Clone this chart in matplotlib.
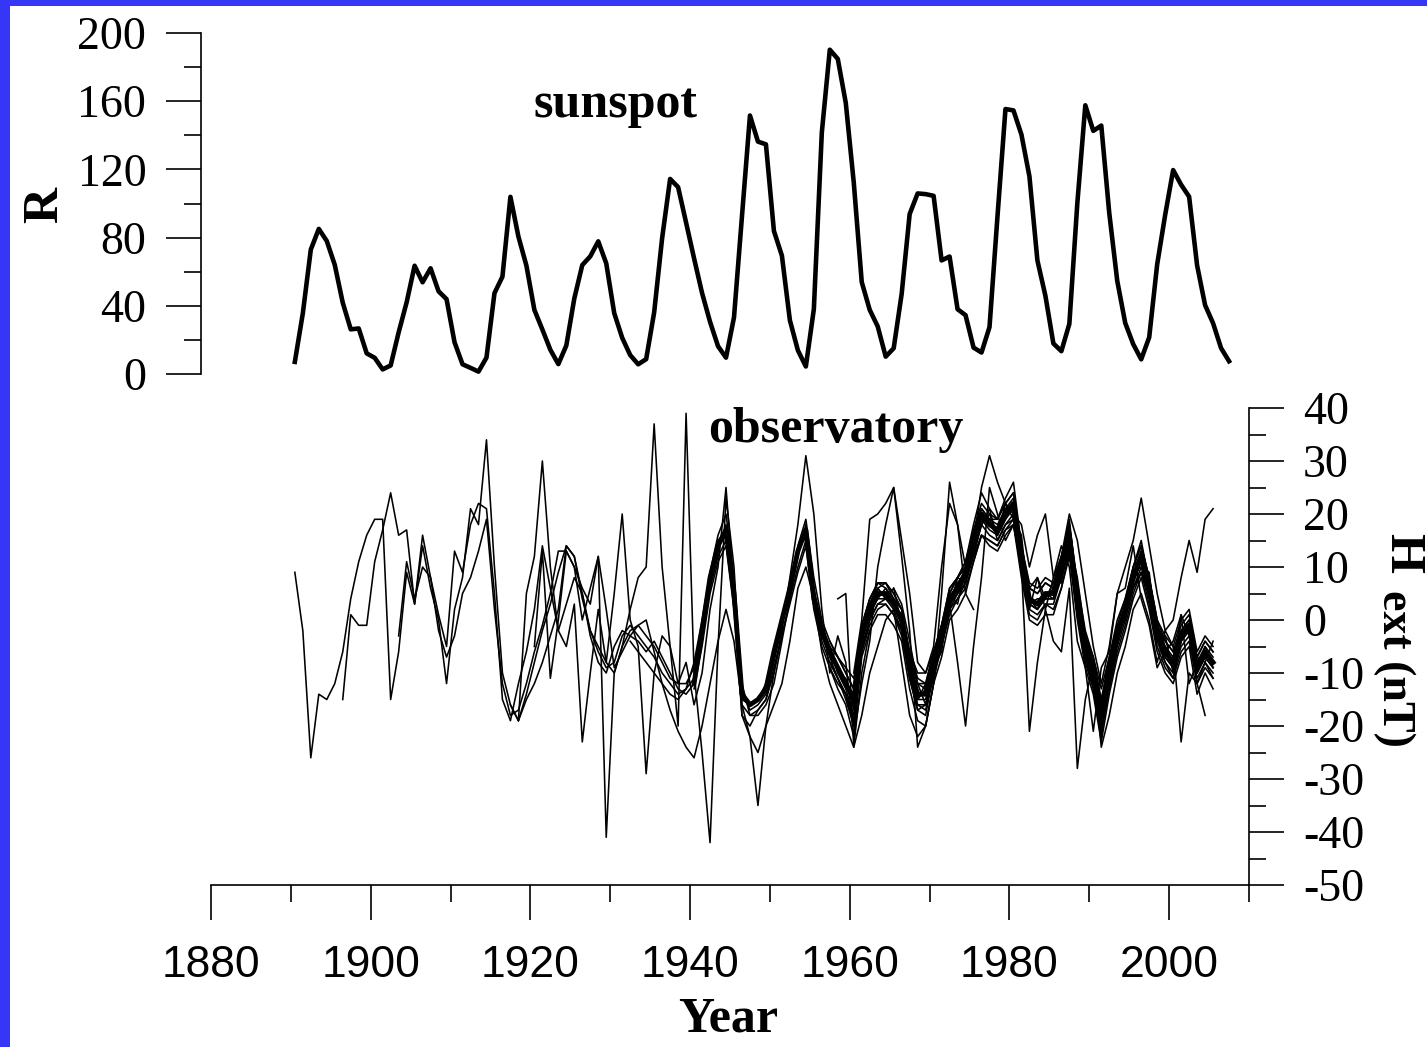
import numpy as np
import matplotlib
matplotlib.use('Agg')
import matplotlib.pyplot as plt
from matplotlib import font_manager
from matplotlib.patches import Rectangle
from matplotlib.ticker import MultipleLocator

plt.rcParams['axes.unicode_minus'] = False
plt.rcParams['font.family'] = ['Liberation Serif', 'DejaVu Serif']

# annual sunspot number R, 1890-2007
ssn_start = 1890
ssn = [7.1, 35.6, 73.0, 85.1, 78.0, 64.0, 41.8, 26.2, 26.7, 12.1,
       9.5, 2.7, 5.0, 24.4, 42.0, 63.5, 53.8, 62.0, 48.5, 43.9,
       18.6, 5.7, 3.6, 1.4, 9.6, 47.4, 57.1, 103.9, 80.6, 63.6,
       37.6, 26.1, 14.2, 5.8, 16.7, 44.3, 63.9, 69.0, 77.8, 64.9,
       35.7, 21.2, 11.1, 5.7, 8.7, 36.1, 79.7, 114.4, 109.6, 88.8,
       67.8, 47.5, 30.6, 16.3, 9.6, 33.2, 92.6, 151.6, 136.3, 134.7,
       83.9, 69.4, 31.5, 13.9, 4.4, 38.0, 141.7, 190.2, 184.8, 159.0,
       112.3, 53.9, 37.6, 27.9, 10.2, 15.1, 47.0, 93.8, 105.9, 105.5,
       104.5, 66.6, 68.9, 38.0, 34.5, 15.5, 12.6, 27.5, 92.5, 155.4,
       154.6, 140.4, 115.9, 66.6, 45.9, 17.9, 13.4, 29.4, 100.2, 157.6,
       142.6, 145.7, 94.3, 54.6, 29.9, 17.5, 8.6, 21.5, 64.3, 93.3,
       119.6, 111.0, 104.0, 63.7, 40.4, 29.8, 15.2, 7.5]

# Hext (nT) per observatory: (first year, annual values)
obs_a = (1890, [9, -2, -26, -14, -15, -12, -6, 4, 11, 16, 19, 19, -15, -6, 9, 3, 16, 8, 1, -5,
                13, 9, 18, 22, 21, 5, -15, -19, -12, -6, 2, 14, 6, -2, 3, 8, 5, -2, -6, -9,
                -8, -3, -1, -3, -5, -7, -10, -12, -14, -13, -11, -3, 7, 13, 18, 6, -13, -17, -16, -14,
                -8, -1, 5, 12, 18, 6, -1, -5, -10, -13, -18])
obs_b = (1896, [-15, 1, -1, -1, 11, 17, 24, 16, 17, 3, 14, 6, 0, -12, 2, 8, 21, 18, 34, 10,
                -10, -16, -19, -14, -8, -2, 3, 9, 14, 12, 4, -2, -5, -8, -10, -5, -2, -1, -3, -5,
                -8, -11, -12, -12, -9, -1, 8, 15, 17, 4, -15, -16, -15, -12, -6, 0, 7, 13, 16, 3,
                -3, -7, -9, -12, -16, -4, 1, 4, 6, 3, -1, -9, -15, -15, -8, -2, 4, 7, 9, 14,
                19, 18, 16, 19, 22, 11, 3, 2, 5, 4, 9, 15, 3, -6, -11, -19, -11, -3, 2, 8,
                13, 6, -3, -7, -9, -4, -2, -10, -7, -9])
obs_c = (1903, [-3, 11, 4, 10, 8, -2, -7, -3, 5, 8, 13, 19, 2, -12, -18, -17, -12, -6, -1, 5,
                13, 13, 10, 6, 3, 12, 2, -9, -6, -3, -4, -6, -4, -7, -10, -13, -14, -12, -4, 6,
                12, 15, 3, -16, -18, -17, -15, -9, -3, 4, 10, 15, 5, -4, -8, -11, -14, -20, -6, 0,
                3, 4, 2, -2, -10, -16, -17, -10, -4, 2, 5, 8, 13])
obs_n1 = (1917, [-16, -19, 5, 12, 30, 10, -2, -5, 3, -23, -10, 2, -8, 5, 20, 0, -5, -29, -10, -3,
                 -5, -12, -8, -16, -10, 2, 10, 25, 5, -18, -22, -35, -20, -10])
obs_n2 = (1920, [-5, 13, -11, 0, 13, 10, 0, 6, 12, -41, -10, -5, 2, 8, 10, 37, 10, -5, -20, 39,
                 -10, -25, -42, -5, 23, 10, -15])
obs_s = (1918, [-19, -15, -12, -8, -3, 2, 14, 12, 5, -3, -8, -10, -5, -2, -3, -1, 0, -6, -12, -17,
                -21, -24, -26, -20, -12, -4, 2, -4, -16, -22, -25, -20, -16, -12, -4, 6, 10, 4, -6, -12,
                -16, -20, -24, -10, -2])
obs_d = (1932, [-4, -6, -8, -10, -12, -14, -15, -13, -8, 0, 9, 16, 20, 8, -12, -18, -18, -16, -12, -4,
                4, 14, 19, 8, 0, -4, -7, -10, -13, -2, 3, 6, 7, 5, 2, -7, -12, -13, -7, -1,
                5, 8, 10, 16, 21, 19, 18, 21, 23, 14, 6, 5, 7, 6, 11, 17, 6, -3, -9, -16,
                -9, -2, 3, 9, 13, 7, -1, -5, -7, -2, 0, -8, -5, -7])
obs_e = (1940, [-13, -5, 5, 11, 14, 2, -18, -20, -17, -15, -10, -3, 3, 9, 14, 2, -5, -9, -12, -14,
                -19, -6, -1, 2, 3, 1, -3, -11, -17, -16, -11, -5, 1, 4, 6, 11, 16, 15, 14, 17,
                19, 9, 1, 0, 3, 2, 6, 13, 1, -8, -13, -21, -13, -6, -1, 5, 9, 3, -5, -9,
                -11, -6, -4, -12, -9, -11])
obs_m1 = (1957, [-4, -7, -10, -13, -1, 4, 7, 6, 4, 2, -7, -12, -12, -6, -1, 6, 8, 10, 16, 21,
                 19, 19, 22, 24, 14, 6, 5, 7, 6, 12, 18, 6, -3, -8, -16, -8, -1, 4, 10, 14,
                 8, 0, -4, -6, -1, 1, -7, -4, -6])
obs_m2 = (1957, [-8, -11, -14, -18, -5, 0, 3, 3, 1, -2, -11, -16, -16, -10, -5, 2, 4, 7, 13, 18,
                 16, 15, 18, 20, 10, 2, 1, 3, 3, 8, 14, 2, -7, -12, -20, -12, -5, 0, 6, 10,
                 4, -4, -8, -10, -5, -3, -11, -8, -10])
obs_m3 = (1957, [-7, -11, -15, -20, -4, 3, 7, 7, 4, 0, -11, -17, -18, -10, -4, 5, 8, 11, 18, 24,
                 21, 19, 23, 26, 14, 4, 2, 5, 5, 11, 19, 5, -7, -13, -22, -12, -4, 2, 10, 15,
                 7, -3, -8, -11, -4, -1, -12, -8, -11])
obs_m4 = (1957, [-5, -7, -9, -11, -2, 2, 4, 4, 3, 1, -6, -10, -10, -6, -2, 3, 5, 7, 12, 16,
                 15, 14, 17, 18, 10, 4, 3, 4, 4, 8, 13, 4, -3, -7, -13, -7, -2, 2, 6, 9,
                 5, -1, -4, -6, -2, 0, -7, -4, -6])
obs_m5 = (1960, [-12, -1, 4, 7, 7, 5, 2, -6, -11, -12, -6, -1, 6, 8, 11, 17, 22, 20, 19, 22,
                 24, 14, 7, 6, 8, 7, 12, 18, 7, -2, -7, -15, -7, 0, 4, 10, 14, 8, 0, -3,
                 -5, 0, 2, -6, -3, -5])
obs_m6 = (1957, [-5, -10, -11, -17, -2, 1, 6, 4, 4, -1, -8, -15, -13, -9, -2, 3, 7, 8, 16, 19,
                 19, 16, 21, 21, 13, 3, 4, 4, 6, 9, 17, 3, -4, -11, -17, -11, -2, 1, 9, 11,
                 7, -3, -5, -9, -2, -2, -10, -5, -9])
obs_m7 = (1970, [-9, -4, 3, 5, 8, 14, 19, 17, 16, 19, 21, 11, 3, 2, 4, 4, 9, 15, 3, -6,
                 -11, -19, -11, -4, 1, 7, 11, 5, -3, -7, -9, -4, -2, -10, -7, -9])
obs_m8 = (1957, [-9, -13, -16, -22, -7, -2, 1, 1, -1, -4, -13, -19, -20, -12, -7, 0, 2, 5, 11, 16,
                 14, 13, 16, 18, 8, 0, -1, 1, 1, 6, 12, 0, -9, -14, -23, -14, -7, -2, 4, 8,
                 2, -6, -10, -12, -7, -5, -14, -10, -13])
obs_m9 = (1962, [0, 6, 4, 6, -1, -7, -15, -12, -10, -1, 2, 8, 7, 13, 18, 21, 15, 18, 19, 16,
                 2, 8, 4, 7, 7, 15, 8, -3, -12, -15, -13, -1, 0, 9, 10, 9, -4, -3, -10, 1,
                 -3, -7, -8, -4])
obs_m10 = (1965, [6, 3, -4, -12, -16, -9, -6, 5, 3, 10, 12, 18, 20, 16, 22, 19, 9, 6, 8, 2,
                  8, 14, 10, -4, -9, -21, -9, -6, 5, 6, 14, 4, -1, -9, -6, -4, 1, -12, -8, -7])
obs_core = (1940, [-12, -2, 8, 14, 17, 5, -14, -16, -15, -13, -6, 0, 6, 13, 17, 4, -2, -6, -9, -12,
                   -15, -3, 2, 5, 5, 3, 0, -9, -14, -14, -8, -3, 4, 6, 9, 15, 20, 18, 17, 20,
                   22, 12, 4, 3, 5, 5, 10, 16, 4, -5, -10, -18, -10, -3, 2, 8, 12, 6, -2, -6,
                   -8, -3, -1, -9, -6, -8])
obs_o1 = (1950, [-10, -2, 8, 18, 31, 20, 2, -10, -3, -8, -22, -12, -4, 10, 18, 25, 12, -2, -24, -20,
                 -12, 5, 26, 18, 5, 2])
obs_o2 = (1958, [4, 5, -24, -18, -10, -5, 0, 2, -8, -18, -22, -20, -12, -2, 3, -8, -20, -5, 8, 25,
                 20, 15, 18, 10, -21, -8, 2, -4, -6, 6, -28, -15, -8, -24, -18, -10, -5, 2, 5, 0,
                 -8, -2, -5, -23, -10, -12, -18])
obs_o3 = (1960, [-10, 0, 19, 20, 22, 25, 15, 5, -8, -10, -5, 10, 22, 18, 10, 15, 25, 31, 26, 22,
                 20, 18, 10, 16, 20, 8, 12, 20, 15, 5, -5, -12, -5, 5, 10, 15, 23, 14, 5, -2,
                 0, 8, 15, 9, 19, 21])

observatories = [obs_a, obs_b, obs_c, obs_n1, obs_n2, obs_s, obs_d, obs_e,
                 obs_m1, obs_m2, obs_m3, obs_m4, obs_m5, obs_m6, obs_m7, obs_m8,
                 obs_m9, obs_m10, obs_o1, obs_o2, obs_o3]

W, H = 1427, 1047
fig = plt.figure(figsize=(W / 100, H / 100), dpi=100, facecolor='#3636f6')
fig.patches.append(Rectangle((10 / W, 0), 1, 1 - 6 / H, transform=fig.transFigure,
                             facecolor='white', edgecolor='none', zorder=-10))

def px_box(x0, x1, ytop, ybot):
    return [x0 / W, 1 - ybot / H, (x1 - x0) / W, (ybot - ytop) / H]

names = {f.name for f in font_manager.fontManager.ttflist}
if 'Liberation Sans Narrow' in names:
    xfont = dict(family='Liberation Sans Narrow', size=39)
else:
    xfont = dict(family='Liberation Sans', size=32)

tick_kw = dict(width=1.2, color='black')

# ---- sunspot panel
ax1 = fig.add_axes(px_box(200.5, 1249, 33, 374))
ax1.set_facecolor('none')
yrs = np.arange(ssn_start, ssn_start + len(ssn)) + 0.5
ax1.plot(yrs, ssn, color='black', lw=3.3, solid_joinstyle='round')
ax1.set_xlim(1880 - 10.5 / 7.98, 2010)
ax1.set_ylim(0, 200)
for s in ['top', 'right', 'bottom']:
    ax1.spines[s].set_visible(False)
ax1.spines['left'].set_linewidth(1.2)
ax1.set_xticks([])
ax1.yaxis.set_major_locator(MultipleLocator(40))
ax1.yaxis.set_minor_locator(MultipleLocator(20))
ax1.tick_params(axis='y', which='major', length=25, pad=14, labelsize=33, **tick_kw)
ax1.tick_params(axis='y', which='minor', length=12, **tick_kw)
ax1.text(1930.6, 158, 'sunspot', fontsize=36, fontweight='bold', ha='center', va='center')

# ---- observatory panel
ax2 = fig.add_axes(px_box(211, 1249, 408, 885))
ax2.set_facecolor('none')
for start, vals in observatories:
    yy = np.arange(start, start + len(vals)) + 0.5
    ax2.plot(yy, vals, color='black', lw=1.15)
start, vals = obs_core
ax2.plot(np.arange(start, start + len(vals)) + 0.5, vals, color='black', lw=3.5)
ax2.set_xlim(1880, 2010)
ax2.set_ylim(-50, 40)
for s in ['top', 'left']:
    ax2.spines[s].set_visible(False)
for s in ['right', 'bottom']:
    ax2.spines[s].set_linewidth(1.2)
ax2.yaxis.tick_right()
ax2.yaxis.set_major_locator(MultipleLocator(10))
ax2.yaxis.set_minor_locator(MultipleLocator(5))
ax2.xaxis.set_major_locator(MultipleLocator(20))
ax2.xaxis.set_minor_locator(MultipleLocator(10))
ax2.tick_params(axis='y', which='major', length=25, pad=14, labelsize=33, **tick_kw)
ax2.tick_params(axis='y', which='minor', length=12, **tick_kw)
ax2.tick_params(axis='x', which='major', length=25, pad=18, **tick_kw)
ax2.tick_params(axis='x', which='minor', length=12, **tick_kw)
ax2.set_xticks([1880, 1900, 1920, 1940, 1960, 1980, 2000])
ax2.set_xticklabels(['1880', '1900', '1920', '1940', '1960', '1980', '2000'], **xfont)
ax2.text(1958.3, 35.8, 'observatory', fontsize=36, fontweight='bold', ha='center', va='center')

fig.text(45 / W, 1 - 205 / H, 'R', fontsize=36, fontweight='bold', rotation=90,
         ha='center', va='center')
fig.text(728 / W, 1 - 1020 / H, 'Year', fontsize=36, fontweight='bold',
         ha='center', va='center')
fig.text(1402 / W, 1 - 553 / H, 'H', fontsize=37, fontweight='bold', rotation=270,
         ha='center', va='center')
fig.text(1394 / W, 1 - 668 / H, 'ext (nT)', fontsize=33, fontweight='bold', rotation=270,
         ha='center', va='center')

fig.savefig('out.png', dpi=100, facecolor=fig.get_facecolor())
